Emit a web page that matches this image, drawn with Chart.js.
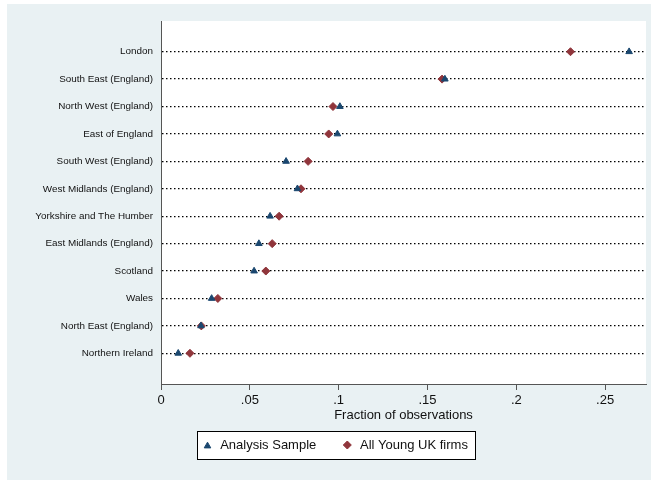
<!DOCTYPE html>
<html>
<head>
<meta charset="utf-8">
<script src="https://cdn.jsdelivr.net/npm/chart.js@4.4.1/dist/chart.umd.min.js"></script>
<style>
  html, body { margin: 0; padding: 0; background: #fff; }
</style>
</head>
<body>
<canvas id="regionChart" width="651" height="480"></canvas>
<script>
// regions, top to bottom
const regions = [
    'London', 'South East (England)', 'North West (England)', 'East of England',
    'South West (England)', 'West Midlands (England)', 'Yorkshire and The Humber',
    'East Midlands (England)', 'Scotland', 'Wales', 'North East (England)', 'Northern Ireland'
];
const analysisSample = [0.2635, 0.1598, 0.1007, 0.0993, 0.0704, 0.0768, 0.0614, 0.0551, 0.0524, 0.0285, 0.0225, 0.0097];
const allYoungFirms  = [0.2305, 0.1582, 0.0968, 0.0944, 0.0828, 0.0788, 0.0665, 0.0626, 0.0590, 0.0320, 0.0227, 0.0163];
const xTickValues = [0, 0.05, 0.1, 0.15, 0.2, 0.25];
const xTickLabels = ['0', '.05', '.1', '.15', '.2', '.25'];

const NAVY = '#1a476f';
const MAROON = '#90353b';
const FONT = 'Liberation Sans, Arial, sans-serif';

const toPoints = vals => vals.map((v, i) => ({ x: v, y: i }));

// stata-like background: light blue-grey graph region, white plot region
const backgroundPlugin = {
    id: 'background',
    beforeDraw(chart) {
        const { ctx, chartArea: a, width, height } = chart;
        ctx.save();
        ctx.fillStyle = '#ffffff';
        ctx.fillRect(0, 0, width, height);
        ctx.fillStyle = '#e9f1f3';
        ctx.fillRect(7, 4, width - 7, height - 4);
        ctx.fillStyle = '#ffffff';
        ctx.fillRect(a.left, a.top, a.right - a.left, a.bottom - a.top);
        ctx.restore();
    }
};

// boxed legend under the axis title
const boxLegendPlugin = {
    id: 'boxLegend',
    afterDraw(chart) {
        const { ctx } = chart;
        const cx = 336, cy = 445, boxH = 28;
        const pad = 6, mk = 8, gap1 = 8.7, gap2 = 27;
        ctx.save();
        ctx.font = '13px ' + FONT;
        const items = chart.data.datasets.map(ds => ({
            label: ds.label, style: ds.pointStyle, color: ds.backgroundColor,
            radius: ds.pointRadius, w: ctx.measureText(ds.label).width
        }));
        let total = pad * 2 + 2;
        items.forEach((it, i) => { total += mk + gap1 + it.w + (i ? gap2 : 0); });
        const left = Math.round(cx - total / 2) + 0.5;
        ctx.fillStyle = '#ffffff';
        ctx.fillRect(left, cy - boxH / 2, total, boxH);
        ctx.strokeStyle = '#000000';
        ctx.lineWidth = 1;
        ctx.strokeRect(left, Math.round(cy - boxH / 2) + 0.5, Math.round(total), boxH);
        let x = left + pad;
        items.forEach((it, i) => {
            if (i) x += gap2;
            ctx.fillStyle = it.color;
            ctx.strokeStyle = it.color;
            Chart.helpers.drawPoint(ctx, { pointStyle: it.style, radius: it.radius, borderWidth: 1, rotation: 0 },
                x + mk / 2, cy + (it.style === 'triangle' ? 1 : 0));
            x += mk + gap1;
            ctx.fillStyle = '#111111';
            ctx.textBaseline = 'middle';
            ctx.textAlign = 'left';
            ctx.fillText(it.label, x, cy + 0.5);
            x += it.w;
        });
        ctx.restore();
    }
};

new Chart(document.getElementById('regionChart').getContext('2d'), {
    type: 'scatter',
    data: {
        datasets: [
            {
                label: 'Analysis Sample',
                data: toPoints(analysisSample),
                pointStyle: 'triangle',
                pointRadius: 3.8,
                borderWidth: 1,
                backgroundColor: NAVY,
                borderColor: NAVY
            },
            {
                label: 'All Young UK firms',
                data: toPoints(allYoungFirms),
                pointStyle: 'rectRot',
                pointRadius: 4,
                borderWidth: 1,
                backgroundColor: MAROON,
                borderColor: MAROON
            }
        ]
    },
    options: {
        responsive: false,
        animation: false,
        layout: { padding: { left: 0, right: 4, top: 21, bottom: 56.5 } },
        scales: {
            x: {
                type: 'linear',
                min: 0,
                max: 0.273,
                afterBuildTicks: s => { s.ticks = xTickValues.map(v => ({ value: v })); },
                afterFit: s => { s.height = 39.5; },
                ticks: {
                    callback: (v, i) => xTickLabels[i],
                    font: { family: FONT, size: 13 },
                    color: '#111',
                    padding: 3,
                    maxRotation: 0,
                    autoSkip: false
                },
                grid: { drawOnChartArea: false, drawTicks: true, tickLength: 6, color: '#555', lineWidth: 1 },
                border: { color: '#555', width: 1 },
                title: {
                    display: true,
                    text: 'Fraction of observations',
                    font: { family: FONT, size: 13 },
                    color: '#111',
                    padding: 0
                }
            },
            y: {
                type: 'linear',
                reverse: true,
                min: -1.12,
                max: 12.12,
                afterBuildTicks: s => { s.ticks = regions.map((_, i) => ({ value: i })); },
                afterFit: s => { s.width = 161; },
                ticks: {
                    callback: v => regions[v],
                    font: { family: FONT, size: 9.9 },
                    color: '#111',
                    padding: 8,
                    autoSkip: false
                },
                grid: { color: '#000', lineWidth: 1.3, drawTicks: false },
                border: { color: '#555', width: 1, dash: [1.5, 2.5] }
            }
        },
        plugins: {
            legend: { display: false },
            tooltip: { enabled: false }
        }
    },
    plugins: [backgroundPlugin, boxLegendPlugin]
});
</script>
</body>
</html>
